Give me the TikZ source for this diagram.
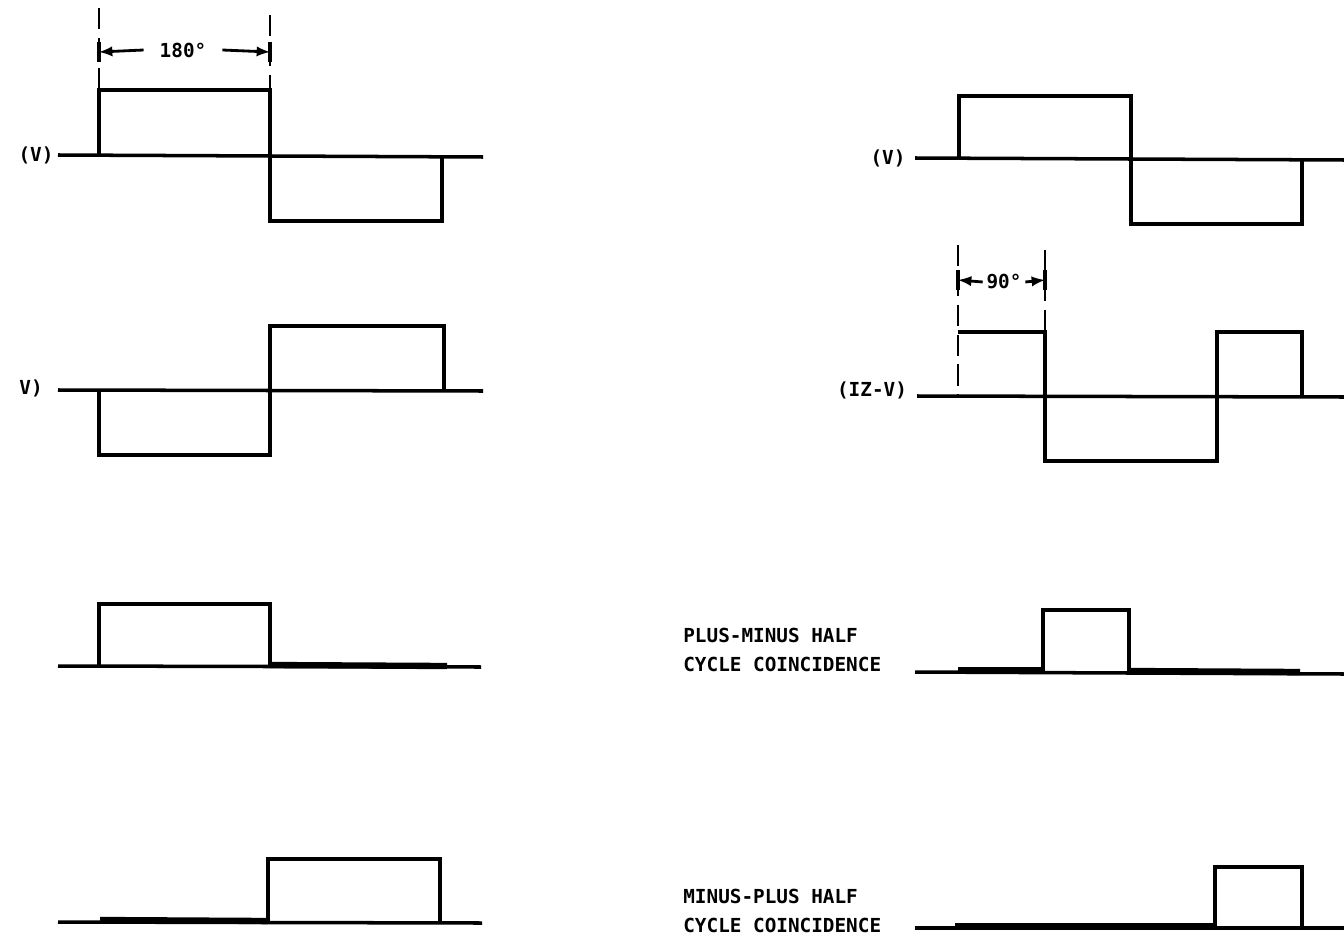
\documentclass[tikz,border=0pt]{standalone}
\usepackage{fontspec}
\setmainfont{DejaVu Sans Mono}
\usetikzlibrary{arrows}
\tikzstyle{wave} = [
    line width=2pt,
    line join=miter
]
\tikzstyle{heavy} = [
    line width=3.6pt
]
\tikzstyle{guide} = [
    line width=1.6pt,
    dash pattern=on 12pt off 5pt
]
\tikzstyle{arrow} = [line width=1.6pt,->,>=latex]
\tikzstyle{sigtext} = [
    font=\bfseries\fontsize{11}{16}\selectfont,
    inner sep=0pt
]
\tikzstyle{note} = [
    sigtext,
    align=left,
    anchor=west
]

\begin{document}
\begin{tikzpicture}[x=0.02cm, y=-0.02cm]
\useasboundingbox (0,0) rectangle (1344,939);

% left column, first wave with 180 degree mark
\node (va) [sigtext] at (36,155) {(V)};
\draw [wave] (58,155) -- (483,157);
\draw [wave] (99,155) |- (270,90) -- (270,221) -| (442,157);
\draw [guide] (99,8) -- (99,88);
\draw [guide] (270,15) -- (270,88);
\node (d180) [sigtext, inner xsep=9pt] at (183,50) {180°};
\draw [arrow] (d180.west) -- (99,52);
\draw [arrow] (d180.east) -- (270,52);
\draw [wave] (99,42) -- (99,62);
\draw [wave] (270,42) -- (270,62);

% left column, second wave
\node (vb) [sigtext] at (31,388) {V)};
\draw [wave] (58,390) -- (483,391);
\draw [wave] (99,390) |- (270,455) -- (270,326) -| (444,391);

% left column, third wave
\draw [wave] (58,666) -- (481,667);
\draw [wave] (99,666) |- (270,604) -- (270,666);
\draw [heavy] (270,665) -- (447,666);

% left column, fourth wave
\draw [wave] (58,922) -- (482,923);
\draw [heavy] (100,920) -- (268,921);
\draw [wave] (268,922) |- (440,859) -- (440,923);

% right column, first wave
\node (vc) [sigtext] at (888,158) {(V)};
\draw [wave] (915,158) -- (1344,160);
\draw [wave] (959,158) |- (1131,96) -- (1131,224) -| (1302,160);

% right column, second wave with 90 degree mark
\node (iz) [sigtext] at (872,390) {(IZ-V)};
\draw [wave] (917,396) -- (1344,397);
\draw [guide] (958,245) -- (958,396);
\draw [guide] (1045,250) -- (1045,330);
\draw [wave] (958,332) -- (1045,332) -- (1045,461) -- (1217,461)
    -- (1217,332) -- (1302,332) -- (1302,397);
\node (d90) [sigtext, inner xsep=2pt] at (1004,282) {90°};
\draw [arrow] (d90.west) -- (958,280);
\draw [arrow] (d90.east) -- (1045,280);
\draw [wave] (958,270) -- (958,290);
\draw [wave] (1045,270) -- (1045,290);

% right column, third wave
\node (pm) [note] at (683,650) {PLUS-MINUS HALF\\CYCLE COINCIDENCE};
\draw [wave] (915,672) -- (1344,674);
\draw [heavy] (958,670) -- (1043,670);
\draw [wave] (1043,672) |- (1129,610) -- (1129,672);
\draw [heavy] (1129,671) -- (1300,672);

% right column, fourth wave
\node (mp) [note] at (683,911) {MINUS-PLUS HALF\\CYCLE COINCIDENCE};
\draw [wave] (915,928) -- (1344,928);
\draw [heavy] (955,926) -- (1215,926);
\draw [wave] (1215,928) |- (1302,867) -- (1302,928);

\end{tikzpicture}
\end{document}
